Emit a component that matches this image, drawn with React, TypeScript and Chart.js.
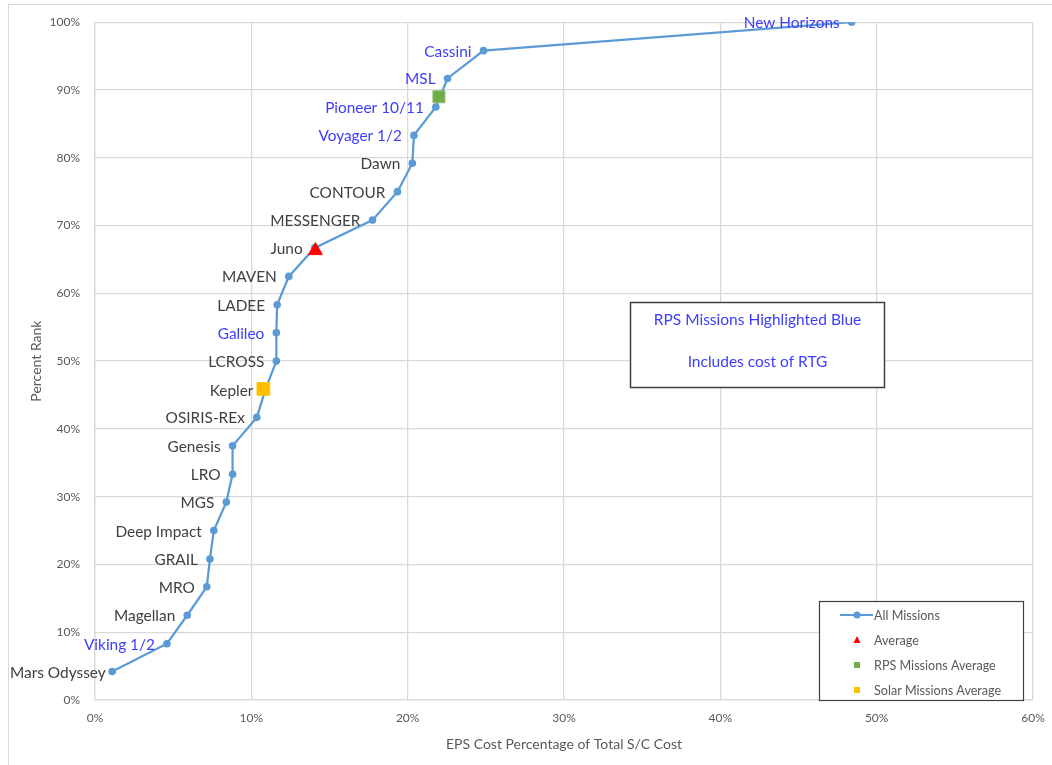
import React, { useEffect, useRef } from "react";
import { Chart, registerables } from "chart.js";

Chart.register(...registerables);

// ---------- data ----------
const missions = [
  "Mars Odyssey", "Viking 1/2", "Magellan", "MRO", "GRAIL", "Deep Impact",
  "MGS", "LRO", "Genesis", "OSIRIS-REx", "Kepler", "LCROSS", "Galileo",
  "LADEE", "MAVEN", "Juno", "MESSENGER", "CONTOUR", "Dawn", "Voyager 1/2",
  "Pioneer 10/11", "MSL", "Cassini", "New Horizons",
];
// EPS cost percentage of total S/C cost (%)
const epsCostPct = [
  1.1, 4.6, 5.9, 7.15, 7.35, 7.6, 8.4, 8.8, 8.8, 10.35, 10.9, 11.6, 11.6,
  11.65, 12.4, 14.05, 17.75, 19.35, 20.3, 20.4, 21.8, 22.55, 24.85, 48.4,
];
// Percent rank (%)
const percentRank = [
  4.2, 8.3, 12.5, 16.7, 20.8, 25.0, 29.2, 33.3, 37.5, 41.7, 45.8, 50.0, 54.2,
  58.3, 62.5, 66.7, 70.8, 75.0, 79.2, 83.3, 87.5, 91.7, 95.8, 100.0,
];
const rpsMissions = [
  "Viking 1/2", "Galileo", "Voyager 1/2", "Pioneer 10/11", "MSL", "Cassini", "New Horizons",
];
const averageX = [14.1];
const averageY = [66.3];
const rpsAverageX = [22.0];
const rpsAverageY = [89.0];
const solarAverageX = [10.77];
const solarAverageY = [45.9];

const seriesNames = ["All Missions", "Average", "RPS Missions Average", "Solar Missions Average"];
const noteLines = ["RPS Missions Highlighted Blue", "Includes cost of RTG"];
const xTitle = "EPS Cost Percentage of Total S/C Cost";
const yTitle = "Percent Rank";

// ---------- styles ----------
const FONT = "Lato, 'Open Sans', sans-serif";
const LINE_BLUE = "#5b9bd5";
const RED = "#ff0000";
const GREEN = "#70ad47";
const ORANGE = "#ffc000";
const LABEL_GRAY = "#404040";
const LABEL_BLUE = "#3d3dff";
const AXIS_GRAY = "#595959";
const GRID = "#d9d9d9";

const toPoints = (xs: number[], ys: number[]) => xs.map((x, i) => ({ x, y: ys[i] }));

const decorPlugin = {
  id: "decor",
  beforeDraw(chart: any) {
    const ctx = chart.ctx;
    ctx.save();
    ctx.fillStyle = "#ffffff";
    ctx.fillRect(0, 0, chart.width, chart.height);
    ctx.strokeStyle = GRID;
    ctx.lineWidth = 1;
    ctx.strokeRect(8.5, 4.5, chart.width + 20, chart.height + 20);
    ctx.restore();
  },
  afterDraw(chart: any) {
    const ctx = chart.ctx;
    const meta = chart.getDatasetMeta(0);
    ctx.save();
    // mission labels
    ctx.font = `15.4px ${FONT}`;
    ctx.textBaseline = "middle";
    ctx.textAlign = "left";
    meta.data.forEach((el: any, i: number) => {
      const name = missions[i];
      const w = ctx.measureText(name).width;
      let left = el.x - 12 - w;
      if (left < 10) left = 10;
      ctx.fillStyle = rpsMissions.includes(name) ? LABEL_BLUE : LABEL_GRAY;
      ctx.fillText(name, left, el.y + 1);
    });

    // note box
    const bx = 630.5, by = 302.5, bw = 254, bh = 85;
    ctx.fillStyle = "#ffffff";
    ctx.fillRect(bx, by, bw, bh);
    ctx.strokeStyle = "#404040";
    ctx.lineWidth = 1.5;
    ctx.strokeRect(bx, by, bw, bh);
    ctx.fillStyle = LABEL_BLUE;
    ctx.textAlign = "center";
    ctx.font = `15.5px ${FONT}`;
    ctx.fillText(noteLines[0], bx + bw / 2, 320);
    ctx.fillText(noteLines[1], bx + bw / 2, 362);

    // legend
    const lx = 819.5, ly = 601.5, lw = 204, lh = 99;
    ctx.fillStyle = "#ffffff";
    ctx.fillRect(lx, ly, lw, lh);
    ctx.strokeStyle = "#404040";
    ctx.lineWidth = 1.2;
    ctx.strokeRect(lx, ly, lw, lh);
    const mx = 857;
    const rows = [615, 640, 665, 690];
    // all missions
    ctx.strokeStyle = LINE_BLUE;
    ctx.lineWidth = 2;
    ctx.beginPath();
    ctx.moveTo(840, rows[0]);
    ctx.lineTo(873, rows[0]);
    ctx.stroke();
    ctx.fillStyle = LINE_BLUE;
    ctx.beginPath();
    ctx.arc(mx, rows[0], 3.5, 0, Math.PI * 2);
    ctx.fill();
    // average triangle
    ctx.fillStyle = RED;
    ctx.beginPath();
    ctx.moveTo(mx, rows[1] - 4);
    ctx.lineTo(mx + 3.5, rows[1] + 3);
    ctx.lineTo(mx - 3.5, rows[1] + 3);
    ctx.closePath();
    ctx.fill();
    // squares
    ctx.fillStyle = GREEN;
    ctx.fillRect(mx - 3, rows[2] - 3, 6, 6);
    ctx.fillStyle = ORANGE;
    ctx.fillRect(mx - 3, rows[3] - 3, 6, 6);
    ctx.fillStyle = AXIS_GRAY;
    ctx.textAlign = "left";
    ctx.font = `12.6px ${FONT}`;
    seriesNames.forEach((n, i) => ctx.fillText(n, 874, rows[i] + 1));
    ctx.restore();
  },
};

export default function App() {
  const ref = useRef<HTMLCanvasElement | null>(null);
  useEffect(() => {
    if (!ref.current) return;
    const chart = new Chart(ref.current, {
      type: "scatter",
      data: {
        datasets: [
          {
            label: seriesNames[0],
            data: toPoints(epsCostPct, percentRank),
            showLine: true,
            borderColor: LINE_BLUE,
            borderWidth: 2.25,
            backgroundColor: LINE_BLUE,
            pointBackgroundColor: LINE_BLUE,
            pointBorderWidth: 0,
            pointRadius: 3.8,
            order: 2,
          },
          {
            label: seriesNames[1],
            data: toPoints(averageX, averageY),
            pointStyle: "triangle",
            pointRadius: 8,
            backgroundColor: RED,
            borderColor: RED,
            borderWidth: 1,
            order: 1,
          },
          {
            label: seriesNames[2],
            data: toPoints(rpsAverageX, rpsAverageY),
            pointStyle: "rect",
            pointRadius: 8.5,
            backgroundColor: GREEN,
            borderColor: "#8fbf6f",
            borderWidth: 1,
            order: 1,
          },
          {
            label: seriesNames[3],
            data: toPoints(solarAverageX, solarAverageY),
            pointStyle: "rect",
            pointRadius: 9,
            backgroundColor: ORANGE,
            borderColor: ORANGE,
            borderWidth: 1,
            order: 1,
          },
        ],
      } as any,
      options: {
        responsive: false,
        animation: false,
        layout: { padding: { top: 20, right: 19, left: 0, bottom: 0 } },
        plugins: {
          legend: { display: false },
          tooltip: { enabled: false },
          title: { display: false },
        },
        scales: {
          x: {
            type: "linear",
            min: 0,
            max: 60,
            afterFit: (s: any) => {
              s.height = 65;
              s.paddingRight = 0;
              s.paddingLeft = 0;
            },
            ticks: {
              stepSize: 10,
              padding: 10.5,
              color: AXIS_GRAY,
              font: { family: FONT, size: 12 },
              callback: (v: any) => `${v}%`,
            },
            grid: { color: GRID, lineWidth: 1.3, drawTicks: false },
            border: { color: GRID, width: 1.3 },
            title: {
              display: true,
              text: xTitle,
              color: AXIS_GRAY,
              font: { family: FONT, size: 14 },
              padding: { top: 0, bottom: 12.5 },
            },
          },
          y: {
            type: "linear",
            min: 0,
            max: 100,
            afterFit: (s: any) => { s.width = 95; },
            ticks: {
              stepSize: 10,
              padding: 15,
              color: AXIS_GRAY,
              font: { family: FONT, size: 12 },
              callback: (v: any) => `${v}%`,
            },
            grid: { color: GRID, lineWidth: 1.3, drawTicks: false },
            border: { color: GRID, width: 1.3 },
            title: {
              display: true,
              text: yTitle,
              color: AXIS_GRAY,
              font: { family: FONT, size: 14 },
              padding: { top: 28.5, bottom: 0 },
            },
          },
        },
      } as any,
      plugins: [decorPlugin],
    });
    return () => chart.destroy();
  }, []);
  return (
    <canvas
      ref={ref}
      width={1052}
      height={765}
      style={{ position: "absolute", left: 0, top: 0, width: 1052, height: 765, display: "block" }}
    />
  );
}
